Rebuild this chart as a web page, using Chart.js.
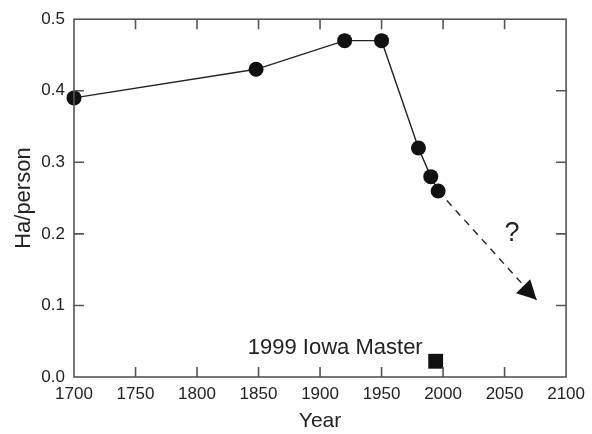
<!DOCTYPE html>
<html>
<head>
<meta charset="utf-8">
<script src="https://cdn.jsdelivr.net/npm/chart.js@4"></script>
<style>
  html, body { margin: 0; padding: 0; background: #fff; }
  #wrap { width: 592px; height: 434px; }
</style>
</head>
<body>
<div id="wrap"><canvas id="grafico" width="592" height="434"></canvas></div>
<script>
// dados
const anos = [1700, 1848, 1920, 1950, 1980, 1990, 1996];
const haPorPessoa = [0.39, 0.43, 0.47, 0.47, 0.32, 0.28, 0.26];
const anosProjecao = [1996, 2076];
const valoresProjecao = [0.26, 0.108];
const anoIowa = [1994];
const valorIowa = [0.022];
const ticksX = [1700, 1750, 1800, 1850, 1900, 1950, 2000, 2050, 2100];
const ticksY = [0.0, 0.1, 0.2, 0.3, 0.4, 0.5];

const corTexto = '#222';
const corEixo = '#555';
const fonte = 'Liberation Sans, Arial, Helvetica, sans-serif';

// moldura, ticks internos, seta e textos
const extras = {
    id: 'extras',
    afterDatasetsDraw(chart) {
        const { ctx, chartArea: a, scales: { x, y } } = chart;
        ctx.save();
        ctx.strokeStyle = corEixo;
        ctx.lineWidth = 1.6;
        ctx.strokeRect(a.left, a.top, a.right - a.left, a.bottom - a.top);
        const tam = 10;
        ctx.beginPath();
        ticksX.slice(1, -1).forEach(v => {
            const px = x.getPixelForValue(v);
            ctx.moveTo(px, a.bottom); ctx.lineTo(px, a.bottom - tam);
            ctx.moveTo(px, a.top); ctx.lineTo(px, a.top + tam);
        });
        ticksY.slice(1, -1).forEach(v => {
            const py = y.getPixelForValue(v);
            ctx.moveTo(a.left, py); ctx.lineTo(a.left + tam, py);
            ctx.moveTo(a.right, py); ctx.lineTo(a.right - tam, py);
        });
        ctx.stroke();

        // ponta da seta
        const x0 = x.getPixelForValue(anosProjecao[0]), y0 = y.getPixelForValue(valoresProjecao[0]);
        const x1 = x.getPixelForValue(anosProjecao[1]), y1 = y.getPixelForValue(valoresProjecao[1]);
        const ang = Math.atan2(y1 - y0, x1 - x0) - 0.05;
        const comp = 19, larg = 10;
        ctx.fillStyle = '#111';
        ctx.beginPath();
        ctx.moveTo(x1, y1);
        ctx.lineTo(x1 - comp * Math.cos(ang) + larg * Math.sin(ang), y1 - comp * Math.sin(ang) - larg * Math.cos(ang));
        ctx.lineTo(x1 - comp * Math.cos(ang) - larg * Math.sin(ang), y1 - comp * Math.sin(ang) + larg * Math.cos(ang));
        ctx.closePath();
        ctx.fill();

        // textos
        ctx.fillStyle = corTexto;
        ctx.font = '22px ' + fonte;
        ctx.textAlign = 'right';
        ctx.textBaseline = 'alphabetic';
        ctx.fillText('1999 Iowa Master', x.getPixelForValue(anoIowa[0]) - 13, y.getPixelForValue(valorIowa[0]) - 7);
        ctx.font = '27px ' + fonte;
        ctx.textAlign = 'center';
        ctx.textBaseline = 'middle';
        ctx.fillText('?', x.getPixelForValue(2056), y.getPixelForValue(0.2));
        ctx.restore();
    }
};

new Chart(document.getElementById('grafico'), {
    type: 'scatter',
    data: {
        datasets: [
            {
                data: anos.map((a, i) => ({ x: a, y: haPorPessoa[i] })),
                showLine: true,
                clip: false,
                borderColor: '#222',
                borderWidth: 1.4,
                backgroundColor: '#111',
                pointBackgroundColor: '#111',
                pointBorderWidth: 0,
                pointRadius: 7.5
            },
            {
                data: anosProjecao.map((a, i) => ({ x: a, y: valoresProjecao[i] })),
                showLine: true,
                clip: false,
                borderColor: '#222',
                borderWidth: 1.4,
                borderDash: [7, 6],
                pointRadius: 0
            },
            {
                data: anoIowa.map((a, i) => ({ x: a, y: valorIowa[i] })),
                clip: false,
                pointStyle: 'rect',
                pointRadius: 10.5,
                pointBorderWidth: 0,
                pointBackgroundColor: '#111'
            }
        ]
    },
    options: {
        responsive: false,
        animation: false,
        layout: { padding: { top: 17, right: 25, left: 0, bottom: 0 } },
        plugins: { legend: { display: false }, tooltip: { enabled: false } },
        scales: {
            x: {
                type: 'linear',
                min: 1700, max: 2100,
                afterBuildTicks: s => { s.ticks = ticksX.map(v => ({ value: v })); },
                afterFit: s => { s.height = 57; },
                grid: { display: false, drawTicks: false },
                border: { display: false },
                ticks: { color: corTexto, font: { family: fonte, size: 17 }, padding: 7, maxRotation: 0, callback: v => String(v) },
                title: { display: true, text: 'Year', color: corTexto, font: { family: fonte, size: 21 }, padding: { top: 0, bottom: 0 } }
            },
            y: {
                min: 0, max: 0.5,
                afterBuildTicks: s => { s.ticks = ticksY.map(v => ({ value: v })); },
                afterFit: s => { s.width = 74; },
                grid: { display: false, drawTicks: false },
                border: { display: false },
                ticks: { color: corTexto, font: { family: fonte, size: 17 }, padding: 9, callback: v => v.toFixed(1) },
                title: { display: true, text: 'Ha/person', color: corTexto, font: { family: fonte, size: 22 }, padding: { top: 11, bottom: 0 } }
            }
        }
    },
    plugins: [extras]
});
</script>
</body>
</html>
